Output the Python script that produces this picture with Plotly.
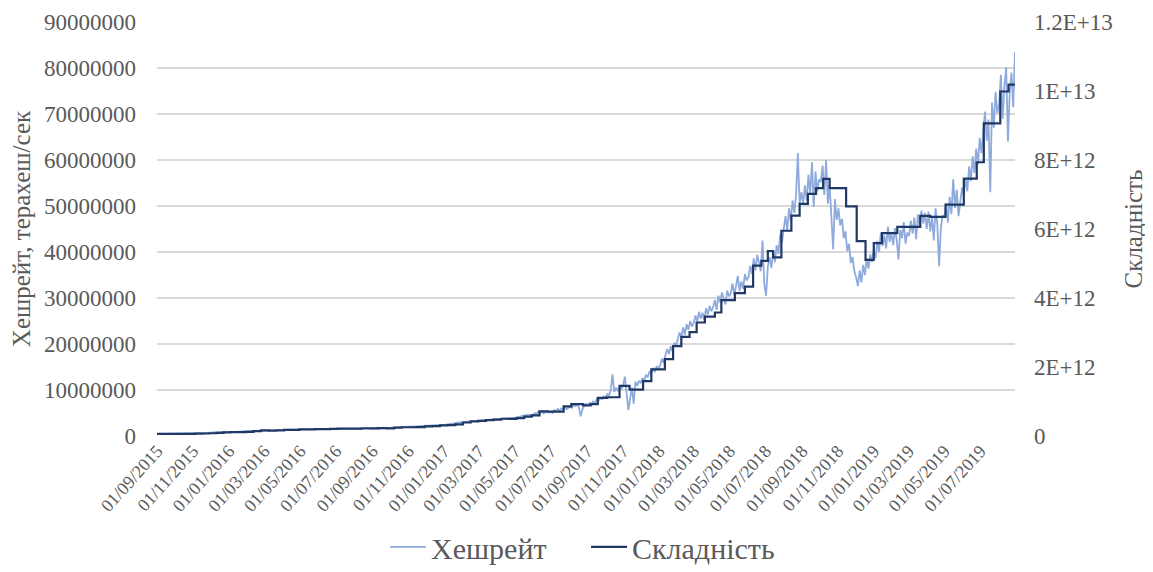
import pandas as pd
import plotly.graph_objects as go

# ---------------- data ----------------
# Hashrate (million TH/s), weekly from 2015-09-01
hashrate_weekly_2015_2017 = [
    0.43, 0.44, 0.45, 0.45,
    0.46, 0.47, 0.48, 0.50, 0.52,
    0.55, 0.60, 0.62, 0.68,
    0.72, 0.80, 0.85, 0.88,
    0.85, 0.82, 0.90, 0.95, 1.00,
    1.10, 1.20, 1.20, 1.18,
    1.15, 1.20, 1.25, 1.30,
    1.30, 1.35, 1.40, 1.42, 1.40,
    1.45, 1.42, 1.45, 1.45,
    1.48, 1.50, 1.50, 1.55,
    1.50, 1.52, 1.55, 1.58, 1.56,
    1.60, 1.62, 1.58, 1.60,
    1.62, 1.60, 1.65, 1.70,
    1.75, 1.80, 1.85, 1.82, 1.85,
    1.90, 2.00, 2.05, 2.10,
    2.15, 2.20, 2.30, 2.30,
    2.40, 2.45, 2.60, 2.80, 2.90,
    3.00, 3.15, 3.20, 3.25,
    3.35, 3.40, 3.45, 3.50,
    3.60, 3.70, 3.75, 3.80, 3.85,
    4.00, 4.20, 4.40, 4.60,
]

# Hashrate (million TH/s), every 3 days from 2017-06-01
hashrate_2017 = [
    4.6, 5.0, 4.8, 5.3, 5.0, 5.4, 4.9, 5.2, 5.5, 5.1,
    5.3, 5.0, 5.6, 5.4, 5.9, 5.5, 6.0, 5.7, 6.3, 5.8, 6.1,
    6.4, 6.1, 6.8, 6.5, 6.9, 6.2, 4.3, 5.8, 6.6, 7.0,
    6.7, 7.2, 6.9, 7.5, 7.1, 7.9, 7.6, 8.3, 8.0, 8.6,
    8.4, 9.1, 8.8, 10.0, 13.4, 9.6, 10.4, 9.9, 10.8, 10.2,
    11.0, 12.9, 9.5, 5.6, 8.2, 10.5, 7.0, 11.8, 10.9, 12.0,
    11.5, 12.6, 12.0, 13.3, 12.8, 14.1, 13.5, 14.8, 13.9, 15.2, 14.6,
]
hashrate_2018 = [
    15.4, 16.8, 15.9, 17.6, 18.9, 17.8, 19.5, 18.4, 20.3, 19.6,
    20.8, 22.5, 21.4, 23.6, 22.0, 24.3, 23.1, 25.0, 23.8,
    24.6, 26.2, 24.9, 27.0, 25.5, 26.8, 25.2, 27.8, 26.4, 28.3, 27.1,
    28.0, 29.6, 27.4, 30.5, 29.0, 31.2, 29.8, 28.6, 31.6, 30.4,
    31.0, 33.2, 30.6, 32.4, 34.8, 31.5, 33.6, 32.0, 35.2, 33.8,
    34.5, 37.0, 35.2, 38.6, 36.0, 39.4, 37.5, 35.8, 42.5, 33.0,
    30.5, 36.8, 38.9, 36.5, 40.2, 37.8, 41.5, 39.6, 43.8, 42.0,
    45.0, 47.8, 44.6, 49.5, 46.8, 51.2, 48.5, 52.6, 61.5, 50.4, 53.0,
    50.6, 54.5, 51.2, 56.8, 52.5, 59.5, 49.8, 57.5, 53.2, 55.8,
    55.2, 58.8, 52.4, 60.0, 50.5, 54.6, 48.8, 40.6, 51.5, 47.0,
    49.5, 45.8, 47.2, 43.0, 44.5, 40.2, 41.8, 37.6, 38.9, 35.8,
    34.5, 32.6, 36.0, 33.4, 37.2, 35.0, 38.6, 36.4, 39.5, 37.8,
]
hashrate_2019 = [
    40.5, 38.6, 42.4, 40.0, 44.2, 41.3, 43.6, 40.8, 45.5, 42.2, 44.0,
    41.5, 45.2, 42.6, 38.4, 44.8, 43.0, 46.5, 41.8, 44.2,
    43.5, 46.8, 44.0, 47.5, 42.8, 48.2, 45.6, 49.0, 46.2, 48.5,
    45.0, 48.8, 44.5, 47.6, 42.5, 49.5, 46.0, 36.9, 45.2, 48.0,
    47.5, 50.6, 46.4, 52.0, 48.2, 55.8, 49.6, 53.5, 47.8, 51.6, 54.0,
    52.5, 56.0, 53.2, 58.6, 55.4, 60.8, 57.2, 62.5, 59.0, 64.8,
    61.5, 66.0, 70.5, 64.2, 68.8, 53.0, 72.5, 67.0, 74.8, 70.2,
    72.0, 78.5, 69.0, 76.2, 80.2, 64.0, 74.5, 79.0, 71.5, 83.5,
]

# Difficulty adjustments (dates and values in units of 1e12)
difficulty_dates = [
    "2015-09-01", "2015-09-14", "2015-09-27", "2015-10-10", "2015-10-23",
    "2015-11-05", "2015-11-17", "2015-11-29", "2015-12-11", "2015-12-23",
    "2016-01-04", "2016-01-17", "2016-01-30", "2016-02-12", "2016-02-25",
    "2016-03-09", "2016-03-22", "2016-04-04", "2016-04-17", "2016-04-30",
    "2016-05-13", "2016-05-26", "2016-06-08", "2016-06-21", "2016-07-04",
    "2016-07-17", "2016-07-31", "2016-08-14", "2016-08-28", "2016-09-11",
    "2016-09-25", "2016-10-08", "2016-10-21", "2016-11-03", "2016-11-16",
    "2016-11-29", "2016-12-12", "2016-12-25", "2017-01-07", "2017-01-20",
    "2017-02-02", "2017-02-15", "2017-02-28", "2017-03-13", "2017-03-26",
    "2017-04-08", "2017-04-21", "2017-05-04", "2017-05-17", "2017-05-30",
    "2017-06-12", "2017-06-25", "2017-07-09", "2017-07-23", "2017-08-05",
    "2017-08-25", "2017-09-07", "2017-09-19", "2017-10-05", "2017-10-26",
    "2017-11-12", "2017-12-05", "2017-12-19", "2018-01-11", "2018-01-25",
    "2018-02-08", "2018-02-22", "2018-03-06", "2018-03-20", "2018-04-06",
    "2018-04-17", "2018-05-10", "2018-05-27", "2018-06-10", "2018-06-24",
    "2018-07-05", "2018-07-14", "2018-07-28", "2018-08-14", "2018-08-28",
    "2018-09-11", "2018-09-25", "2018-10-07", "2018-10-18", "2018-11-15",
    "2018-12-03", "2018-12-18", "2019-01-01", "2019-01-15", "2019-02-10",
    "2019-03-21", "2019-04-07", "2019-05-03", "2019-06-03", "2019-06-25",
    "2019-07-07", "2019-08-04", "2019-08-18", "2019-08-29",
]
difficulty_tera = [
    0.059, 0.060, 0.060, 0.061, 0.063,
    0.066, 0.073, 0.079, 0.093, 0.104,
    0.113, 0.113, 0.120, 0.144, 0.163,
    0.158, 0.165, 0.178, 0.178, 0.194,
    0.194, 0.199, 0.199, 0.209, 0.214,
    0.213, 0.214, 0.225, 0.221, 0.226,
    0.220, 0.241, 0.253, 0.254, 0.255,
    0.281, 0.286, 0.310, 0.317, 0.336,
    0.392, 0.423, 0.440, 0.460, 0.475,
    0.500, 0.499, 0.521, 0.559, 0.596,
    0.711, 0.708, 0.709, 0.860, 0.923,
    0.888, 0.922, 1.104, 1.123, 1.452,
    1.347, 1.591, 1.931, 2.228, 2.603,
    2.874, 3.008, 3.290, 3.462, 3.580,
    3.940, 4.143, 4.330, 4.940, 5.077,
    5.363, 5.178, 5.949, 6.390, 6.727,
    7.020, 7.183, 7.454, 7.184, 6.653,
    5.646, 5.107, 5.591, 5.883, 6.061,
    6.379, 6.353, 6.704, 7.459, 7.935,
    9.064, 9.985, 10.183, 10.183,
]

x_tick_dates = pd.date_range("2015-09-01", "2019-07-01", freq="2MS")
x_tick_labels = [d.strftime("%d/%m/%Y") for d in x_tick_dates]
left_ticks = [0, 10000000, 20000000, 30000000, 40000000, 50000000, 60000000, 70000000, 80000000, 90000000]
right_ticks = [0, 2e12, 4e12, 6e12, 8e12, 1e13, 1.2e13]
right_tick_labels = ["0", "2E+12", "4E+12", "6E+12", "8E+12", "1E+13", "1.2E+13"]

# ---------------- build ----------------
hr_dates_early = pd.date_range("2015-09-01", periods=len(hashrate_weekly_2015_2017), freq="7D")
hr_late = hashrate_2017 + hashrate_2018 + hashrate_2019
hr_dates_late = pd.date_range("2017-06-01", periods=len(hr_late), freq="3D")
hr_x = list(hr_dates_early) + list(hr_dates_late)
hr_y = [v * 1e6 for v in hashrate_weekly_2015_2017 + hr_late]

diff_x = pd.to_datetime(difficulty_dates)
diff_y = [v * 1e12 for v in difficulty_tera]

FONT = "Liberation Serif"
GREY = "#595959"

fig = go.Figure()
fig.add_trace(go.Scatter(x=hr_x, y=hr_y, mode="lines", name="Хешрейт",
                         line=dict(color="#8FAADC", width=1.8)))
fig.add_trace(go.Scatter(x=diff_x, y=diff_y, mode="lines", name="Складність",
                         line=dict(color="#1F3864", width=2.2, shape="hv"), yaxis="y2"))

# page body has an 8px margin, so the figure is 8px smaller than the window
fig.update_layout(
    width=1145, height=564,
    margin=dict(l=149, r=138, t=14, b=136, autoexpand=False),
    paper_bgcolor="white", plot_bgcolor="white",
    font=dict(family=FONT, color=GREY),
    showlegend=True,
    legend=dict(orientation="h", x=0.5, xanchor="center", y=-0.205, yanchor="top",
                font=dict(size=30, family=FONT, color=GREY), itemwidth=36,
                entrywidth=150, tracegroupgap=0),
    xaxis=dict(type="date", range=["2015-09-01", "2019-08-29"], automargin=False,
               tickvals=list(x_tick_dates), ticktext=x_tick_labels,
               tickangle=-48, tickfont=dict(size=18, family=FONT, color=GREY),
               showgrid=False, showline=False, zeroline=False, ticks=""),
    yaxis=dict(range=[0, 90000000], tickvals=left_ticks, automargin=False,
               ticktext=[str(v) for v in left_ticks],
               tickfont=dict(size=23, family=FONT, color=GREY),
               showgrid=True, gridcolor="#D9D9D9", gridwidth=1.5, zeroline=False,
               ticklabelstandoff=20,
               title=dict(text="Хешрейт, терахеш/сек", font=dict(size=25, family=FONT, color=GREY),
                          standoff=8)),
    yaxis2=dict(range=[0, 1.2e13], overlaying="y", side="right", automargin=False,
                tickvals=right_ticks, ticktext=right_tick_labels,
                tickfont=dict(size=23, family=FONT, color=GREY),
                showgrid=False, zeroline=False, ticklabelstandoff=18,
                title=dict(text="Складність", font=dict(size=25, family=FONT, color=GREY),
                           standoff=12)),
)

fig.write_html("out.html")
